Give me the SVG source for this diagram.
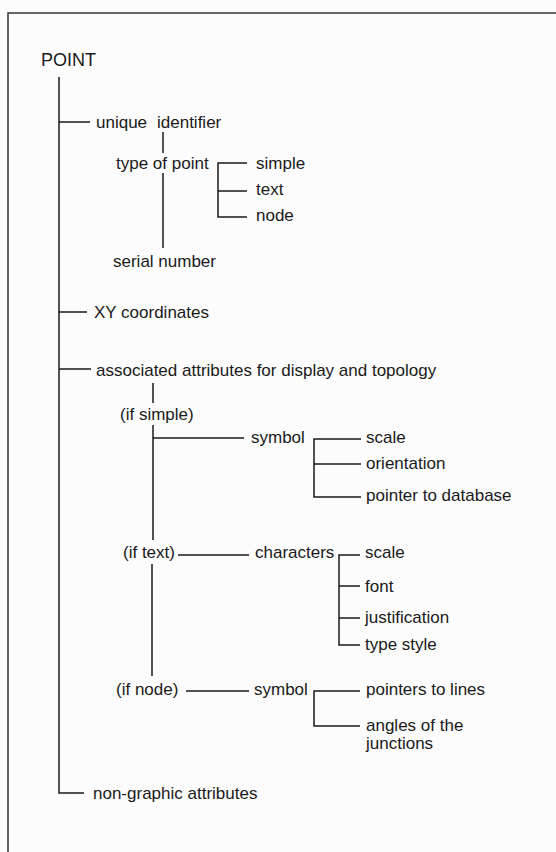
<svg xmlns="http://www.w3.org/2000/svg" width="556" height="852" viewBox="0 0 556 852">
<style>
text{font-family:"Liberation Sans",Arial,sans-serif;font-size:17px;fill:#1a1a1a}
.t{font-size:18px}
.c{fill:none;stroke:#1a1a1a;stroke-width:1.5}
.f{fill:none;stroke:#333;stroke-width:1.5}
</style>
<rect width="556" height="852" fill="#fcfcfc"/>
<path class="f" d="M8,852 V13 H556"/>
<g id="connectors">
<path class="c" d="M59,77 V793 H84"/>
<path class="c" d="M59,122 H90"/>
<path class="c" d="M59,312 H87"/>
<path class="c" d="M59,369 H91"/>
<path class="c" d="M163,132 V153 M163,173 V248"/>
<path class="c" d="M247,163 H218 V217 H247 M218,191 H247"/>
<path class="c" d="M153,383 V403 M153,425 V540 M153,438 H244"/>
<path class="c" d="M361,439 H314 V497 H361 M314,464 H361"/>
<path class="c" d="M178,555 H249"/>
<path class="c" d="M360,555 H339 V645 H360 M339,586 H360 M339,618 H360"/>
<path class="c" d="M152,564 V676"/>
<path class="c" d="M186,691 H249"/>
<path class="c" d="M360,691 H314 V726 H360"/>
</g>
<g id="point"><text class="t" x="41" y="66">POINT</text></g>
<g id="unique-identifier"><text x="96" y="128">unique<tspan x="157">identifier</tspan></text></g>
<g id="type-of-point"><text x="116" y="169">type of point</text></g>
<g id="serial-number"><text x="113" y="267">serial number</text></g>
<g id="simple"><text x="256" y="169">simple</text></g>
<g id="text"><text x="256" y="195">text</text></g>
<g id="node"><text x="256" y="221">node</text></g>
<g id="xy"><text x="94" y="318">XY coordinates</text></g>
<g id="associated"><text x="96" y="376">associated attributes for display and topology</text></g>
<g id="if-simple"><text x="120" y="420">(if simple)</text></g>
<g id="symbol1"><text x="251" y="443">symbol</text></g>
<g id="scale1"><text x="366" y="443">scale</text></g>
<g id="orientation"><text x="366" y="469">orientation</text></g>
<g id="pointer-db"><text x="366" y="501">pointer to database</text></g>
<g id="if-text"><text x="123" y="558">(if text)</text></g>
<g id="characters"><text x="255" y="558">characters</text></g>
<g id="scale2"><text x="365" y="558">scale</text></g>
<g id="font"><text x="365" y="592">font</text></g>
<g id="justification"><text x="365" y="623">justification</text></g>
<g id="type-style"><text x="365" y="650">type style</text></g>
<g id="if-node"><text x="116" y="695">(if node)</text></g>
<g id="symbol2"><text x="254" y="695">symbol</text></g>
<g id="pointers-lines"><text x="366" y="695">pointers to lines</text></g>
<g id="angles"><text x="366" y="731">angles of the</text><text x="366" y="749">junctions</text></g>
<g id="non-graphic"><text x="93" y="799">non-graphic attributes</text></g>
</svg>
